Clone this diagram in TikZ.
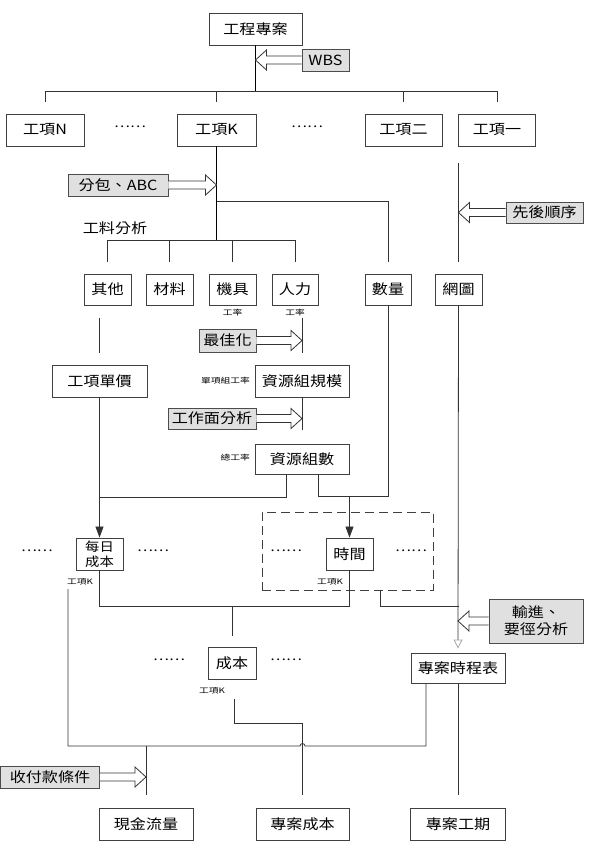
\documentclass[tikz,border=0pt]{standalone}
\usepackage{fontspec}
\setmainfont[FakeStretch=1.15]{Noto Sans CJK TC}
\newfontfamily\tinyfont[FakeStretch=1.3]{Noto Sans CJK TC}
\usetikzlibrary{arrows.meta,calc}

\newcommand{\rarrow}[2]{\draw[barrow] let \p1=(#1), \p2=(#2) in (\x1,\y1+4pt) -- (\x2-11pt,\y1+4pt) -- (\x2-11pt,\y1+10pt) -- (\x2,\y1) -- (\x2-11pt,\y1-10pt) -- (\x2-11pt,\y1-4pt) -- (\x1,\y1-4pt);}
\newcommand{\larrow}[2]{\draw[barrow] let \p1=(#1), \p2=(#2) in (\x1,\y1+4pt) -- (\x2+11pt,\y1+4pt) -- (\x2+11pt,\y1+10pt) -- (\x2,\y1) -- (\x2+11pt,\y1-10pt) -- (\x2+11pt,\y1-4pt) -- (\x1,\y1-4pt);}

\tikzset{
 box/.style={draw=black!75, line width=0.9pt, fill=white, inner sep=0pt, minimum height=32pt, font=\fontsize{14}{16}\selectfont},
 gbox/.style={draw=black!70, line width=0.9pt, fill=black!12, inner sep=0pt, minimum height=22pt, font=\fontsize{14}{16}\selectfont},
 ln/.style={draw=black!80, line width=0.8pt},
 trunk/.style={draw=black, line width=1.4pt},
 barrow/.style={draw=black!80, line width=0.8pt, fill=white, line join=miter},
 tinylab/.style={font=\tinyfont\fontsize{7.5}{8}\selectfont, inner sep=0pt},
 dotlab/.style={font=\fontsize{13}{14}\selectfont, inner sep=0pt},
 lab/.style={font=\fontsize{14}{16}\selectfont, inner sep=0pt},
 blk/.style={-{Triangle[length=11pt,width=8pt]}},
}

\begin{document}
\begin{tikzpicture}[x=1pt,y=-1pt]
\useasboundingbox (0,0) rectangle (591,854);

% ---- top level
\node[box, minimum width=93pt] (top) at (255.5,29) {工程專案};
\node[gbox, minimum width=47pt] (wbs) at (325.5,60) {WBS};
\node[box, minimum width=78pt] (kN) at (45,130) {工項N};
\node[box, minimum width=79pt] (kK) at (216.5,130) {工項K};
\node[box, minimum width=77pt] (k2) at (403.5,130) {工項二};
\node[box, minimum width=77pt] (k1) at (497,130) {工項一};
\node[dotlab] (dA) at (130,127) {……};
\node[dotlab] (dB) at (307,127) {……};

\coordinate (bar1) at (255.5,91);
\draw[trunk] (top.south) -- (bar1);
\draw[ln] (kN.north |- bar1) -- (k1.north |- bar1);
\foreach \n in {kN,kK,k2,k1} \draw[ln] (\n.north |- bar1) -- ++(0,11);
\larrow{wbs.west}{wbs.west -| top.south}

% ---- second level
\node[gbox, minimum width=100pt] (sub) at (118,185) {分包、ABC};
\node[gbox, minimum width=77pt, minimum height=21pt] (seq) at (544.5,212.5) {先後順序};
\node[lab] (gl) at (115,228) {工料分析};
\node[box, minimum width=47pt, minimum height=31pt] (qita) at (107.5,289.5) {其他};
\node[box, minimum width=47pt, minimum height=31pt] (cailiao) at (169.5,289.5) {材料};
\node[box, minimum width=47pt, minimum height=31pt] (jiju) at (232.5,289.5) {機具};
\node[box, minimum width=46pt, minimum height=31pt] (renli) at (295,289.5) {人力};
\node[box, minimum width=46pt, minimum height=31pt] (shuliang) at (388,289.5) {數量};
\node[box, minimum width=47pt, minimum height=31pt] (wangtu) at (458.5,289.5) {網圖};
\node[tinylab] (r1) at (232.5,313) {工率};
\node[tinylab] (r2) at (295,313) {工率};

\coordinate (bar2) at (216.5,240);
\coordinate (br) at (216.5,201);
\draw[trunk] (kK.south) -- (bar2);
\draw[ln] (qita.north |- bar2) -- (renli.north |- bar2);
\foreach \n in {qita,cailiao,jiju,renli} \draw[ln] (\n.north |- bar2) -- ++(0,22);
\draw[ln] (br) -| ($(shuliang.north)+(0,-12)$);
\rarrow{sub.east}{sub.east -| kK.south}
\coordinate (w0) at (458.5,163);
\draw[ln] (w0) -- ($(wangtu.north)+(0,-12)$);
\larrow{seq.west}{seq.west -| wangtu.north}

% ---- resources
\node[gbox, minimum width=57pt, minimum height=23pt] (opt) at (227.5,340.5) {最佳化};
\node[box, minimum width=95pt] (unitprice) at (99.5,381) {工項單價};
\node[box, minimum width=94pt] (scale) at (302,381) {資源組規模};
\node[gbox, minimum width=88pt, minimum height=21pt] (face) at (212,418.5) {工作面分析};
\node[box, minimum width=94pt, minimum height=30pt] (count) at (302,459) {資源組數};
\node[tinylab, anchor=east] (l1) at (250,381) {單項組工率};
\node[tinylab, anchor=east] (l2) at (250,458) {總工率};

\coordinate (q1) at (99.5,318);
\coordinate (p1) at (302,318);
\draw[ln] (q1) -- ($(unitprice.north)+(0,-12)$);
\draw[ln] (p1) -- ($(scale.north)+(0,-12)$);
\rarrow{opt.east}{opt.east -| scale.north}
\draw[ln] (scale.south) -- ($(count.north)+(0,-14)$);
\rarrow{face.east}{face.east -| scale.south}

% ---- daily cost / time
\node[box, minimum width=47pt, font=\fontsize{12.5}{14.5}\selectfont, align=center] (daily) at (99.5,554) {每日\\成本};
\node[draw=black!75, line width=0.9pt, dash pattern=on 9pt off 5pt, minimum width=171pt, minimum height=78pt, inner sep=0pt] (dbox) at (347.5,551) {};
\node[box, minimum width=47pt] (time) at (349.5,554) {時間};
\node[dotlab] (d1) at (37,551) {……};
\node[dotlab] (d2) at (153,551) {……};
\node[dotlab] (d3) at (286,551) {……};
\node[dotlab] (d4) at (411,551) {……};
\node[tinylab] (kd) at (80,582) {工項K};
\node[tinylab] (kt) at (330,582) {工項K};

\coordinate (h1) at (0,497);
\coordinate (h1b) at (0,496);
\draw[ln, blk] (unitprice.south) -- (daily.north);
\draw[ln] ($(count.south)+(-16,0)$) |- (unitprice.south |- h1);
\draw[ln] ($(count.south)+(16,0)$) |- (shuliang.south |- h1b) -- (shuliang.south);
\draw[ln, blk] (time.north |- h1b) -- (time.north);

% ---- cost / schedule
\node[box, minimum width=48pt] (cost) at (232,663) {成本};
\node[dotlab] (d5) at (169,660) {……};
\node[dotlab] (d6) at (286,660) {……};
\node[tinylab] (kc) at (212,691) {工項K};
\node[box, minimum width=94pt, minimum height=30pt] (sched) at (458,668) {專案時程表};
\node[gbox, minimum width=94pt, minimum height=44pt, align=center, font=\fontsize{14}{17}\selectfont] (cp) at (536,621) {輸進、\\要徑分析};

\coordinate (h2) at (0,606);
\draw[ln] (daily.south) -- (daily.south |- h2) -- (time.south |- h2) -- (time.south);
\draw[ln] (cost.north |- h2) -- ($(cost.north)+(0,-11)$);
\coordinate (dd) at (380,590);
\draw[ln] (dd) |- (wangtu.south |- h2);
\draw[ln, -{Triangle[open, length=9pt, width=9pt, color=black!35]}] (wangtu.south) -- ($(sched.north)+(0,-4)$);
\larrow{cp.west}{cp.west -| sched.north}

% ---- bottom
\node[gbox, minimum width=99pt] (pay) at (50,777) {收付款條件};
\node[box, minimum width=94pt] (cash) at (146,824) {現金流量};
\node[box, minimum width=93pt] (pcost) at (302.5,824) {專案成本};
\node[box, minimum width=95pt] (pdur) at (458,824) {專案工期};

\coordinate (h3) at (0,746);
\coordinate (c1) at (68,589);
\coordinate (s1) at ($(sched.south)+(-32,0)$);
\draw[ln] (c1) -- (c1 |- h3) -- ($(pcost.north |- h3)+(-2.5,0)$) arc[start angle=180, end angle=0, radius=2.5pt] -- (s1 |- h3) -- (s1);
\draw[ln] (cash.north |- h3) -- ($(cash.north)+(0,-13)$);
\rarrow{pay.east}{pay.east -| cash.north}
\coordinate (c2) at (234,699);
\coordinate (c3) at (234,723);
\draw[ln] (c2) -- (c3) -| ($(pcost.north)+(0,-13)$);
\draw[ln] (sched.south) -- ($(pdur.north)+(0,-13)$);
\end{tikzpicture}
\end{document}
